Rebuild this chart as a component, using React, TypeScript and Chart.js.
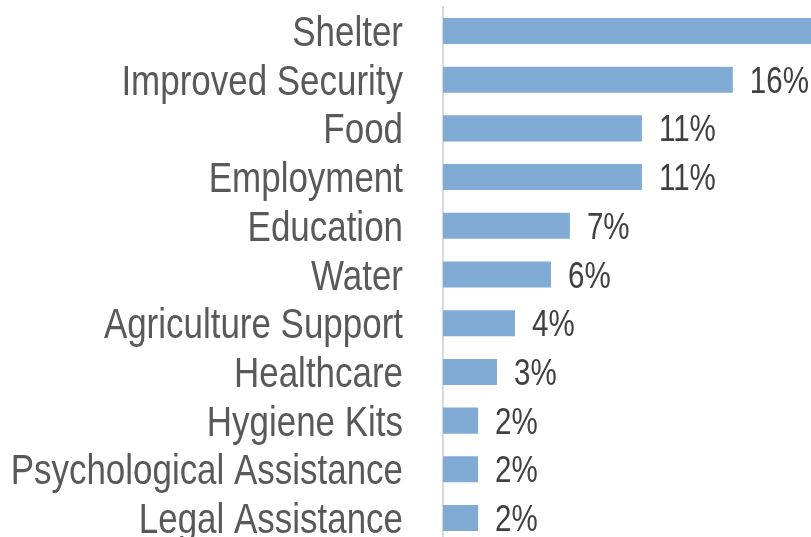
import React, { useEffect, useRef } from "react";
import { Chart, registerables } from "chart.js";

Chart.register(...registerables);

const categories = [
  "Shelter",
  "Improved Security",
  "Food",
  "Employment",
  "Education",
  "Water",
  "Agriculture Support",
  "Healthcare",
  "Hygiene Kits",
  "Psychological Assistance",
  "Legal Assistance",
];

const values = [24, 16.1, 11.05, 11.05, 7.05, 6.0, 4.0, 3.0, 1.95, 1.95, 1.95];

const FONT = "'Liberation Sans', Arial, sans-serif";
const LABEL_NARROW = 0.832;
const VALUE_NARROW = 0.82;

const textLabels = {
  id: "textLabels",
  afterDatasetsDraw(chart: any) {
    const ctx = chart.ctx;
    const meta = chart.getDatasetMeta(0);
    const yScale = chart.scales.y;
    ctx.save();
    // category labels
    ctx.font = `42px ${FONT}`;
    ctx.fillStyle = "#595959";
    ctx.textAlign = "right";
    ctx.textBaseline = "alphabetic";
    chart.data.labels.forEach((lab: string, i: number) => {
      const y = yScale.getPixelForTick(i);
      ctx.save();
      ctx.translate(yScale.right - 40, y + 15);
      ctx.scale(LABEL_NARROW, 1);
      ctx.fillText(lab, 0, 0);
      ctx.restore();
    });
    // value labels
    ctx.font = `36px ${FONT}`;
    ctx.fillStyle = "#404040";
    ctx.textAlign = "left";
    meta.data.forEach((bar: any, i: number) => {
      const v = chart.data.datasets[0].data[i] as number;
      ctx.save();
      ctx.translate(bar.x + 17, bar.y + 13);
      ctx.scale(VALUE_NARROW, 1);
      ctx.fillText(`${Math.round(v)}%`, 0, 0);
      ctx.restore();
    });
    ctx.restore();
  },
};

export default function App() {
  const ref = useRef<HTMLCanvasElement>(null);

  useEffect(() => {
    if (!ref.current) return;
    const chart = new Chart(ref.current, {
      type: "bar",
      data: {
        labels: categories,
        datasets: [
          {
            data: values,
            backgroundColor: "#7fabd5",
            borderWidth: 0,
            barPercentage: 0.535,
            categoryPercentage: 1,
          },
        ],
      },
      options: {
        indexAxis: "y",
        animation: false,
        responsive: false,
        maintainAspectRatio: false,
        layout: { padding: { top: 6.6, bottom: 2.6, right: 7, left: 0 } },
        plugins: { legend: { display: false }, tooltip: { enabled: false } },
        scales: {
          x: { display: false, min: 0, max: 25 },
          y: {
            afterFit: (scale: any) => {
              scale.width = 443;
              scale.paddingTop = 0;
              scale.paddingBottom = 0;
            },
            grid: { display: false, drawTicks: false },
            border: { display: true, color: "#d9d9d9", width: 2 },
            ticks: { display: false },
          },
        },
      },
      plugins: [textLabels],
    });
    return () => chart.destroy();
  }, []);

  return (
    <div
      style={{
        position: "fixed",
        left: 0,
        top: 0,
        width: 811,
        height: 537,
        overflow: "hidden",
        background: "#fff",
      }}
    >
      <canvas ref={ref} width={900} height={545} style={{ width: 900, height: 545 }} />
    </div>
  );
}
